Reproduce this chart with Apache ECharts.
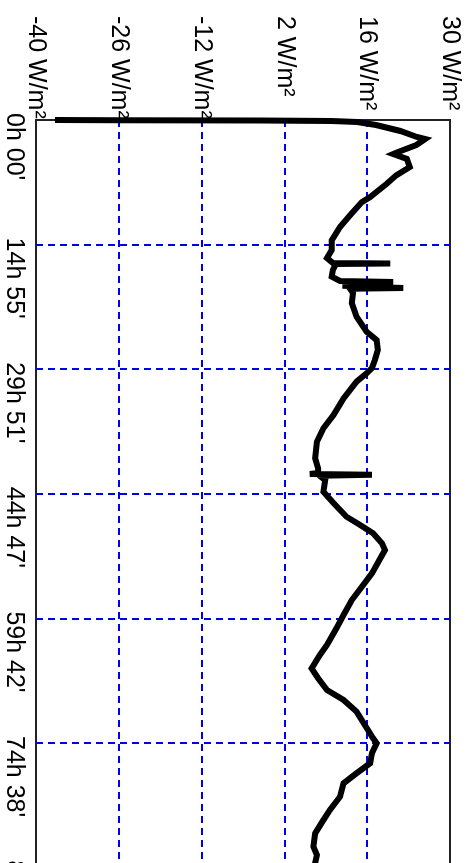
<!DOCTYPE html>
<html>
<head>
<meta charset="utf-8">
<script src="https://cdn.jsdelivr.net/npm/echarts@6/dist/echarts.min.js"></script>
<style>
html,body{margin:0;padding:0;background:#fff;}
#chart{width:473px;height:863px;}
</style>
</head>
<body>
<div id="chart"></div>
<script>
// Elapsed time (minutes) and measured flux (W/m²)
const timeMinutes = [0, 1, 4, 8, 14, 36, 79, 122, 137, 180, 235, 244, 280, 338, 398, 458, 554, 590, 685, 769, 865, 935, 992, 1028, 1031, 1036, 1078, 1126, 1157, 1164, 1170, 1193, 1207, 1213, 1244, 1316, 1414, 1522, 1582, 1653, 1725, 1783, 1821, 1881, 2001, 2121, 2216, 2313, 2432, 2504, 2538, 2545, 2551, 2558, 2588, 2672, 2753, 2852, 2911, 2971, 3043, 3091, 3175, 3259, 3355, 3451, 3558, 3654, 3774, 3846, 3942, 4013, 4098, 4169, 4253, 4349, 4445, 4481, 4552, 4624, 4696, 4768, 4865, 4960, 5032, 5128, 5224, 5284, 5341, 5374];
const fluxValues = [-36.8, -26.1, -2, 10, 14.3, 17.5, 21.6, 24.4, 25.8, 24.3, 20.9, 20.4, 22.7, 23.2, 20.9, 19.3, 16.5, 15.1, 13.1, 11.4, 10.0, 10.0, 9.2, 10.2, 19.9, 10.7, 10.2, 10.0, 11.4, 20.4, 12.3, 12.3, 22.1, 13.1, 13.6, 13.4, 14.2, 15.9, 17.6, 17.8, 17.3, 16.8, 15.9, 14.2, 12.0, 10.3, 8.6, 7.5, 7.2, 7.7, 7.7, 6.3, 16.8, 8.0, 8.9, 8.6, 10.3, 12.5, 14.8, 17.0, 18.5, 19.0, 17.9, 16.8, 15.1, 13.4, 12.0, 10.8, 9.2, 8.0, 6.6, 7.7, 9.2, 12.0, 14.2, 15.6, 17.0, 17.6, 16.8, 16.5, 14.2, 12.0, 11.4, 9.7, 8.6, 7.2, 6.9, 7.5, 7.2, 7.6];

// Axis ticks
const fluxTicks = [-40, -26, -12, 2, 16, 30];
const fluxUnit = ' W/m²';
const timeStep = 895.7; // minutes between time ticks
const timeTickLabels = ["0h 00'", "14h 55'", "29h 51'", "44h 47'", "59h 42'", "74h 38'", "89h 34'"];

const seriesData = timeMinutes.map((t, i) => [fluxValues[i], t]);
const fontFam = "'Liberation Sans', Arial, sans-serif";

const chart = echarts.init(document.getElementById('chart'), null, {renderer: 'canvas'});
chart.setOption({
  animation: false,
  backgroundColor: '#fff',
  grid: {
    left: 36, top: 120, width: 414, height: 747.6,
    show: true, borderColor: '#222', borderWidth: 2, backgroundColor: 'transparent',
    containLabel: false,
    outerBoundsMode: 'none'
  },
  xAxis: {
    type: 'value',
    position: 'top',
    min: fluxTicks[0],
    max: fluxTicks[fluxTicks.length - 1],
    interval: fluxTicks[1] - fluxTicks[0],
    axisLine: {show: false},
    axisTick: {show: false},
    axisLabel: {
      rotate: -90,
      align: 'left',
      verticalAlign: 'middle',
      margin: 104,
      color: '#000',
      fontSize: 25,
      fontFamily: fontFam,
      showMinLabel: true,
      showMaxLabel: true,
      formatter: v => v + fluxUnit
    },
    splitLine: {
      show: true, showMinLine: false, showMaxLine: false,
      lineStyle: {color: '#0000f0', width: 2, type: [7, 5]}
    }
  },
  yAxis: {
    type: 'value',
    inverse: true,
    min: 0,
    max: timeStep * (timeTickLabels.length - 1),
    interval: timeStep,
    axisLine: {show: false},
    axisTick: {show: false},
    axisLabel: {
      rotate: -90,
      align: 'left',
      verticalAlign: 'top',
      margin: 10,
      padding: [0, 0, 0, -7],
      color: '#000',
      fontSize: 25,
      fontFamily: fontFam,
      showMinLabel: true,
      showMaxLabel: true,
      formatter: v => timeTickLabels[Math.round(v / timeStep)] || ''
    },
    splitLine: {
      show: true, showMinLine: false, showMaxLine: false,
      lineStyle: {color: '#0000f0', width: 2, type: [7, 5]}
    }
  },
  series: [{
    type: 'line',
    data: seriesData,
    showSymbol: false,
    symbol: 'none',
    clip: false,
    lineStyle: {color: '#000', width: 6, join: 'miter'},
    z: 5
  }]
});
</script>
</body>
</html>
